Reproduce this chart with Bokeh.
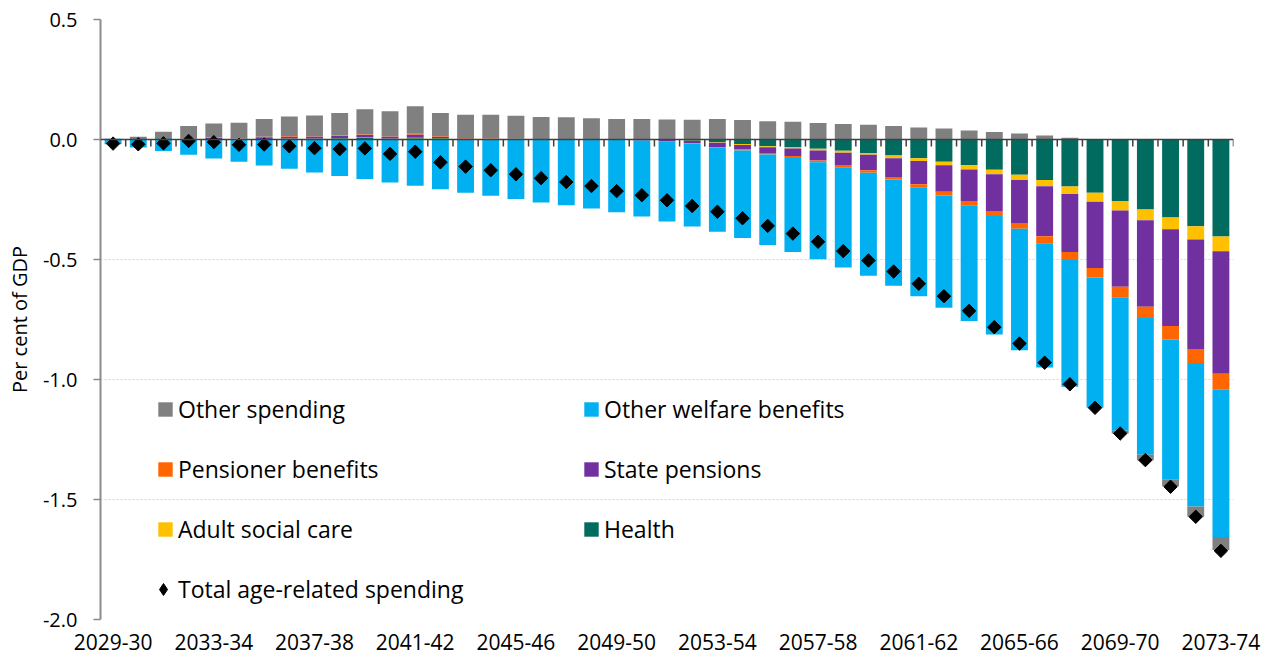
from bokeh.plotting import figure
from bokeh.models import (ColumnDataSource, Range1d, LinearAxis, FixedTicker, Legend,
                          LegendItem, Grid, NumeralTickFormatter, Span)
from bokeh.embed import file_html
from bokeh.resources import INLINE

years = ["2029-30", "2030-31", "2031-32", "2032-33", "2033-34", "2034-35", "2035-36",
         "2036-37", "2037-38", "2038-39", "2039-40", "2040-41", "2041-42", "2042-43",
         "2043-44", "2044-45", "2045-46", "2046-47", "2047-48", "2048-49", "2049-50",
         "2050-51", "2051-52", "2052-53", "2053-54", "2054-55", "2055-56", "2056-57",
         "2057-58", "2058-59", "2059-60", "2060-61", "2061-62", "2062-63", "2063-64",
         "2064-65", "2065-66", "2066-67", "2067-68", "2068-69", "2069-70", "2070-71",
         "2071-72", "2072-73", "2073-74"]

health = [0, 0, 0, 0, 0.001, 0, 0.001, 0.003, 0.003, 0.005, 0.006, 0.003, 0.005, 0.005,
          0.001, 0, 0, 0, 0, 0, 0, 0, -0.001, -0.005, -0.011, -0.019, -0.028, -0.031,
          -0.039, -0.047, -0.056, -0.067, -0.078, -0.093, -0.107, -0.126, -0.147, -0.169,
          -0.196, -0.222, -0.256, -0.292, -0.325, -0.361, -0.404]
adult_social_care = [0, 0, 0, 0, 0, 0, 0, 0.001, 0.001, 0.001, 0.002, 0.001, 0.002, 0.001,
                     0, 0, 0, 0, 0, 0, 0, 0, 0, -0.001, -0.003, -0.004, -0.004, -0.007,
                     -0.007, -0.008, -0.008, -0.011, -0.012, -0.014, -0.018, -0.019, -0.022,
                     -0.026, -0.031, -0.037, -0.040, -0.044, -0.049, -0.056, -0.062]
state_pensions = [0, 0, 0, 0.003, 0.006, 0.003, 0.008, 0.009, 0.008, 0.010, 0.012, 0.008,
                  0.014, 0.006, 0.003, 0.003, 0.002, 0.002, 0, 0, 0, -0.004, -0.007, -0.010,
                  -0.017, -0.019, -0.024, -0.031, -0.042, -0.051, -0.064, -0.078, -0.096,
                  -0.111, -0.131, -0.153, -0.179, -0.208, -0.242, -0.276, -0.318, -0.361,
                  -0.403, -0.456, -0.510]
pensioner_benefits = [0, 0, 0, 0.001, 0.002, 0.001, 0.002, 0.002, 0.002, 0.002, 0.002, 0.002,
                      0.003, 0.003, 0.002, 0.002, 0.001, 0, 0.001, 0, 0, 0, 0, -0.002,
                      -0.003, -0.004, -0.006, -0.008, -0.007, -0.010, -0.011, -0.011, -0.013,
                      -0.015, -0.018, -0.021, -0.024, -0.029, -0.033, -0.040, -0.043, -0.047,
                      -0.056, -0.058, -0.067]
other_welfare = [-0.020, -0.033, -0.048, -0.064, -0.079, -0.093, -0.108, -0.122, -0.137,
                 -0.152, -0.165, -0.179, -0.193, -0.207, -0.222, -0.234, -0.248, -0.262,
                 -0.274, -0.288, -0.303, -0.317, -0.334, -0.345, -0.350, -0.364, -0.378,
                 -0.392, -0.404, -0.417, -0.429, -0.442, -0.454, -0.468, -0.482, -0.494,
                 -0.506, -0.518, -0.528, -0.542, -0.557, -0.570, -0.583, -0.598, -0.613]
other_spending = [0.003, 0.011, 0.032, 0.052, 0.058, 0.066, 0.074, 0.081, 0.086, 0.092,
                  0.104, 0.104, 0.115, 0.095, 0.097, 0.098, 0.096, 0.092, 0.092, 0.089,
                  0.085, 0.085, 0.083, 0.082, 0.085, 0.081, 0.076, 0.074, 0.069, 0.065,
                  0.061, 0.056, 0.050, 0.046, 0.038, 0.031, 0.025, 0.017, 0.007, -0.001,
                  -0.011, -0.022, -0.029, -0.043, -0.054]
total = [-0.017, -0.020, -0.016, -0.006, -0.011, -0.022, -0.021, -0.028, -0.036, -0.040,
         -0.037, -0.060, -0.051, -0.095, -0.113, -0.128, -0.145, -0.161, -0.177, -0.194,
         -0.215, -0.232, -0.253, -0.277, -0.301, -0.328, -0.360, -0.392, -0.426, -0.465,
         -0.504, -0.550, -0.601, -0.653, -0.714, -0.782, -0.850, -0.930, -1.020, -1.118,
         -1.225, -1.336, -1.447, -1.572, -1.714]

y_ticks = [-2.0, -1.5, -1.0, -0.5, 0.0, 0.5]
label_every = 4

FONT = "Open Sans"
n = len(years)
xs = list(range(n))

series = [
    ("Health", health, "#006B5E"),
    ("Adult social care", adult_social_care, "#FFC000"),
    ("State pensions", state_pensions, "#7030A0"),
    ("Pensioner benefits", pensioner_benefits, "#FF6600"),
    ("Other welfare benefits", other_welfare, "#00B0F0"),
    ("Other spending", other_spending, "#808080"),
]

p = figure(width=1268, height=656, x_range=Range1d(-0.5, n - 0.5),
           y_range=Range1d(y_ticks[0], y_ticks[-1]),
           output_backend="svg", toolbar_location=None,
           x_axis_location=None, y_axis_location=None,
           min_border_left=100, min_border_right=35, min_border_top=19,
           min_border_bottom=37)
p.outline_line_color = None
p.background_fill_color = "white"
p.border_fill_color = "white"
# drop default grids
p.center = [r for r in p.center if not isinstance(r, Grid)]

grid = Grid(dimension=1, ticker=FixedTicker(ticks=[t for t in y_ticks if t != 0]),
            grid_line_color="#d4d4d4", grid_line_dash="2 2", grid_line_width=1)
p.add_layout(grid)

pos = [0.0] * n
neg = [0.0] * n
rends = {}
for name, vals, color in series:
    bottoms, tops = [], []
    for i, v in enumerate(vals):
        if v >= 0:
            b = pos[i]
            pos[i] = b + v
        else:
            b = neg[i]
            neg[i] = b + v
        bottoms.append(b)
        tops.append(b + v)
    src = ColumnDataSource(dict(x=xs, bottom=bottoms, top=tops))
    rends[name] = p.vbar(x="x", bottom="bottom", top="top", width=0.67, source=src,
                         fill_color=color, line_color=None)

# zero line and category-boundary ticks hanging below it
p.add_layout(Span(location=0, dimension="width", line_color="#404040", line_width=1.5))
tick_len = 7 / 240.0
bsrc = ColumnDataSource(dict(x=[i + 0.5 for i in range(n)]))
p.segment(x0="x", x1="x", y0=0, y1=-tick_len, source=bsrc,
          line_color="#404040", line_width=1.5)

tsrc = ColumnDataSource(dict(x=xs, y=total))
p.scatter(x="x", y="y", source=tsrc, marker="square", angle=0.785398, size=9.5,
          fill_color="black", line_color="black")
# legend-only glyph (no visible points in the plot area)
legend_total = p.scatter(x=[float("nan")], y=[float("nan")], marker="diamond", size=12,
                         fill_color="black", line_color="black")

# y axis
yaxis = LinearAxis(ticker=FixedTicker(ticks=y_ticks),
                   formatter=NumeralTickFormatter(format="0.0"),
                   axis_label="Per cent of GDP")
yaxis.axis_line_color = "#8c8c8c"
yaxis.axis_line_width = 2
yaxis.major_tick_line_color = "#8c8c8c"
yaxis.major_tick_line_width = 1.5
yaxis.major_tick_out = 7
yaxis.major_tick_in = 0
yaxis.minor_tick_line_color = None
yaxis.major_label_text_font = FONT
yaxis.major_label_text_font_size = "20px"
yaxis.major_label_text_color = "black"
yaxis.major_label_standoff = 16
yaxis.axis_label_text_font = FONT
yaxis.axis_label_text_font_size = "20px"
yaxis.axis_label_text_font_style = "normal"
yaxis.axis_label_text_color = "black"
yaxis.axis_label_standoff = 7
p.add_layout(yaxis, "left")

# category labels at the bottom
lticks = list(range(0, n, label_every))
laxis = LinearAxis(ticker=FixedTicker(ticks=lticks),
                   major_label_overrides={i: years[i] for i in lticks})
laxis.axis_line_color = None
laxis.major_tick_line_color = None
laxis.minor_tick_line_color = None
laxis.major_label_text_font = FONT
laxis.major_label_text_font_size = "21px"
laxis.major_label_text_color = "black"
laxis.major_label_standoff = 8
p.add_layout(laxis, "below")

def make_legend(items, loc, gsize=18, standoff=4):
    lg = Legend(items=[LegendItem(label=nm, renderers=[r]) for nm, r in items],
                location=loc, orientation="vertical")
    lg.glyph_width = gsize
    lg.glyph_height = gsize
    lg.label_standoff = standoff
    lg.label_text_font = FONT
    lg.label_text_font_size = "23px"
    lg.label_text_color = "black"
    lg.label_height = 32
    lg.spacing = 28
    lg.padding = 0
    lg.margin = 0
    lg.border_line_color = None
    lg.background_fill_alpha = 0
    return lg

p.add_layout(make_legend([(nm, rends[nm]) for nm in
                          ["Other spending", "Pensioner benefits", "Adult social care"]],
                         (56, 74)), "center")
p.add_layout(make_legend([(nm, rends[nm]) for nm in
                          ["Other welfare benefits", "State pensions", "Health"]],
                         (482, 74)), "center")
p.add_layout(make_legend([("Total age-related spending", legend_total)], (48, 14),
                         gsize=30, standoff=0), "center")

open("out.html", "w").write(file_html(p, INLINE))
